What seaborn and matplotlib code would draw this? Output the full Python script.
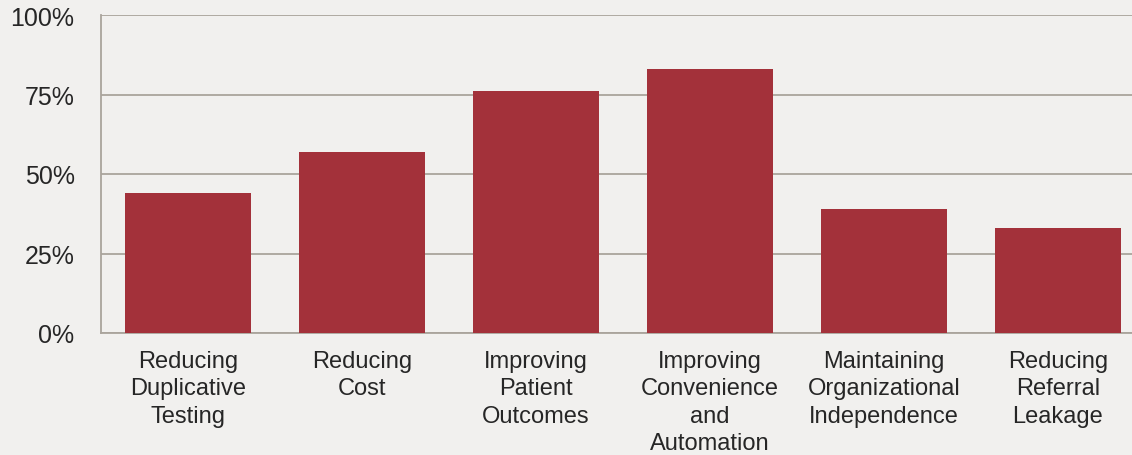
import pandas as pd
import seaborn as sns
import matplotlib.pyplot as plt
from matplotlib.ticker import PercentFormatter

categories = ['Reducing\nDuplicative\nTesting', 'Reducing\nCost', 'Improving\nPatient\nOutcomes',
              'Improving\nConvenience\nand\nAutomation', 'Maintaining\nOrganizational\nIndependence',
              'Reducing\nReferral\nLeakage']
values = [44, 57, 76, 83, 39, 33]
y_ticks = [0, 25, 50, 75, 100]

bg = '#f1f0ee'
grid_color = '#aaa49c'
text_color = '#262626'

sns.set_theme(style='white')
plt.rcParams['font.family'] = ['Liberation Sans', 'DejaVu Sans']

df = pd.DataFrame({'category': categories, 'value': values})

fig = plt.figure(figsize=(11.32, 4.56), dpi=100, facecolor=bg)
ax = fig.add_axes([101 / 1132, 122 / 456, 1044 / 1132, 318 / 456], facecolor=bg)
sns.barplot(data=df, x='category', y='value', color='#a3313a', saturation=1, width=0.724,
            linewidth=0, ax=ax, zorder=3)

ax.set_ylim(0, 100)
ax.set_xlim(-0.5, len(categories) - 0.5)
ax.set_yticks(y_ticks)
ax.yaxis.set_major_formatter(PercentFormatter(decimals=0))
ax.grid(axis='y', color=grid_color, linewidth=1.3, zorder=0)
ax.set_xlabel('')
ax.set_ylabel('')
for s in ['top', 'right']:
    ax.spines[s].set_visible(False)
for s in ['left', 'bottom']:
    ax.spines[s].set_color(grid_color)
    ax.spines[s].set_linewidth(1.3)
ax.tick_params(axis='y', length=0, pad=19, labelsize=18, labelcolor=text_color)
ax.tick_params(axis='x', length=0, pad=12, labelsize=17, labelcolor=text_color)
for lbl in ax.get_xticklabels():
    lbl.set_linespacing(1.32)
for lbl in ax.get_yticklabels():
    lbl.set_y(lbl.get_position()[1])

fig.savefig('out.png', dpi=100, facecolor=bg)
